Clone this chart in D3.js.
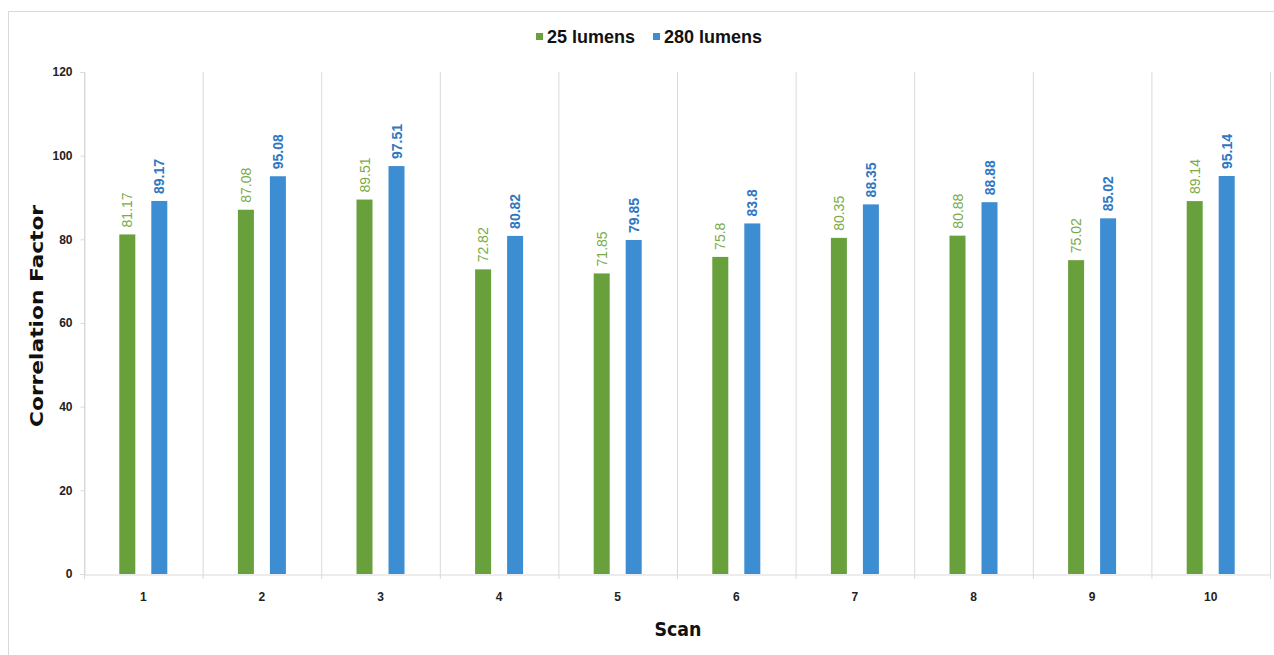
<!DOCTYPE html>
<html>
<head>
<meta charset="utf-8">
<script src="https://cdn.jsdelivr.net/npm/d3@7"></script>
<style>
  html, body { margin: 0; padding: 0; background: #fff; }
  svg { display: block; }
</style>
</head>
<body>
<svg id="chart" width="1274" height="655"></svg>
<script>
const categories = ["1", "2", "3", "4", "5", "6", "7", "8", "9", "10"];
const seriesNames = ["25 lumens", "280 lumens"];
const lumens25 = [81.17, 87.08, 89.51, 72.82, 71.85, 75.8, 80.35, 80.88, 75.02, 89.14];
const lumens280 = [89.17, 95.08, 97.51, 80.82, 79.85, 83.8, 88.35, 88.88, 85.02, 95.14];
const yTicks = [0, 20, 40, 60, 80, 100, 120];

const barColors = ["#68a03c", "#3d8dd2"];
const labelColors = ["#7aab48", "#2f77c2"];
const series = [lumens25, lumens280];

const svg = d3.select("#chart");
const x0 = 84, x1 = 1270, yTop = 72, yBot = 574;

// outer border
svg.append("rect").attr("x", 8.5).attr("y", 11.5).attr("width", 1280).attr("height", 660)
  .attr("fill", "none").attr("stroke", "#d9d9d9").attr("stroke-width", 1);

const x = d3.scaleBand().domain(categories).range([x0, x1]).paddingInner(0).paddingOuter(0);
const y = d3.scaleLinear().domain([0, 120]).range([yBot, yTop]);

const font = "'Liberation Sans Narrow', 'Liberation Sans', Arial, sans-serif";

// vertical gridlines at category boundaries
const bounds = categories.map(c => x(c)).concat([x1]);
svg.append("g").selectAll("line").data(bounds).join("line")
  .attr("x1", d => d + 0.5).attr("x2", d => d + 0.5)
  .attr("y1", yTop).attr("y2", yBot)
  .attr("stroke", "#d9d9d9").attr("stroke-width", 1);

// y axis
const yAxis = d3.axisLeft(y).tickValues(yTicks).tickSize(4).tickPadding(8);
const gy = svg.append("g").attr("transform", `translate(${x0 + 0.5},0)`).call(yAxis);
gy.select(".domain").attr("stroke", "#d9d9d9");
gy.selectAll(".tick line").attr("stroke", "#d9d9d9");
gy.selectAll(".tick text").attr("font-family", font).attr("font-weight", "bold")
  .attr("font-size", 12).attr("fill", "#222");

// x axis
const gx = svg.append("g").attr("transform", `translate(0,${yBot + 0.5})`)
  .call(d3.axisBottom(x).tickSize(0).tickPadding(18));
gx.select(".domain").attr("stroke", "#d9d9d9");
gx.selectAll(".tick text").attr("font-family", font).attr("font-weight", "bold")
  .attr("font-size", 12).attr("fill", "#222");
// tick marks at boundaries below axis
svg.append("g").selectAll("line").data(bounds).join("line")
  .attr("x1", d => d + 0.5).attr("x2", d => d + 0.5)
  .attr("y1", yBot).attr("y2", yBot + 5)
  .attr("stroke", "#d9d9d9");

// bars
const bw = 16;
series.forEach((vals, si) => {
  const g = svg.append("g");
  g.selectAll("rect").data(vals).join("rect")
    .attr("x", (d, i) => x(categories[i]) + x.bandwidth() / 2 + (si === 0 ? -24 : 8))
    .attr("width", bw)
    .attr("y", d => y(d))
    .attr("height", d => yBot - y(d))
    .attr("fill", barColors[si]);
  g.selectAll("text").data(vals).join("text")
    .attr("transform", (d, i) => {
      const cx = x(categories[i]) + x.bandwidth() / 2 + (si === 0 ? -16 : 16);
      return `translate(${cx + 5},${y(d) - 7}) rotate(-90)`;
    })
    .attr("font-family", font)
    .attr("font-weight", si === 0 ? "normal" : "bold")
    .attr("font-size", 14)
    .attr("fill", labelColors[si])
    .attr("text-anchor", "start")
    .text(d => d);
});

// axis titles
svg.append("text").attr("x", 678).attr("y", 636).attr("text-anchor", "middle")
  .attr("font-family", "'DejaVu Sans', 'Liberation Sans', Arial, sans-serif").attr("font-weight", "bold")
  .attr("font-size", 19).attr("fill", "#111")
  .attr("textLength", 47).attr("lengthAdjust", "spacingAndGlyphs")
  .text("Scan");
svg.append("text").attr("transform", "translate(43,316) rotate(-90)").attr("text-anchor", "middle")
  .attr("font-family", "'DejaVu Sans', 'Liberation Sans', Arial, sans-serif").attr("font-weight", "bold")
  .attr("font-size", 18).attr("fill", "#111")
  .attr("textLength", 222).attr("lengthAdjust", "spacingAndGlyphs")
  .text("Correlation Factor");

// legend
const legend = svg.append("g");
const legItems = [{ name: seriesNames[0], x: 536, color: barColors[0] }, { name: seriesNames[1], x: 653, color: barColors[1] }];
legItems.forEach(it => {
  legend.append("rect").attr("x", it.x).attr("y", 33).attr("width", 7).attr("height", 7).attr("fill", it.color);
  legend.append("text").attr("x", it.x + 11).attr("y", 43)
    .attr("font-family", font).attr("font-weight", "bold").attr("font-size", 18)
    .attr("fill", "#111").text(it.name);
});
</script>
</body>
</html>
